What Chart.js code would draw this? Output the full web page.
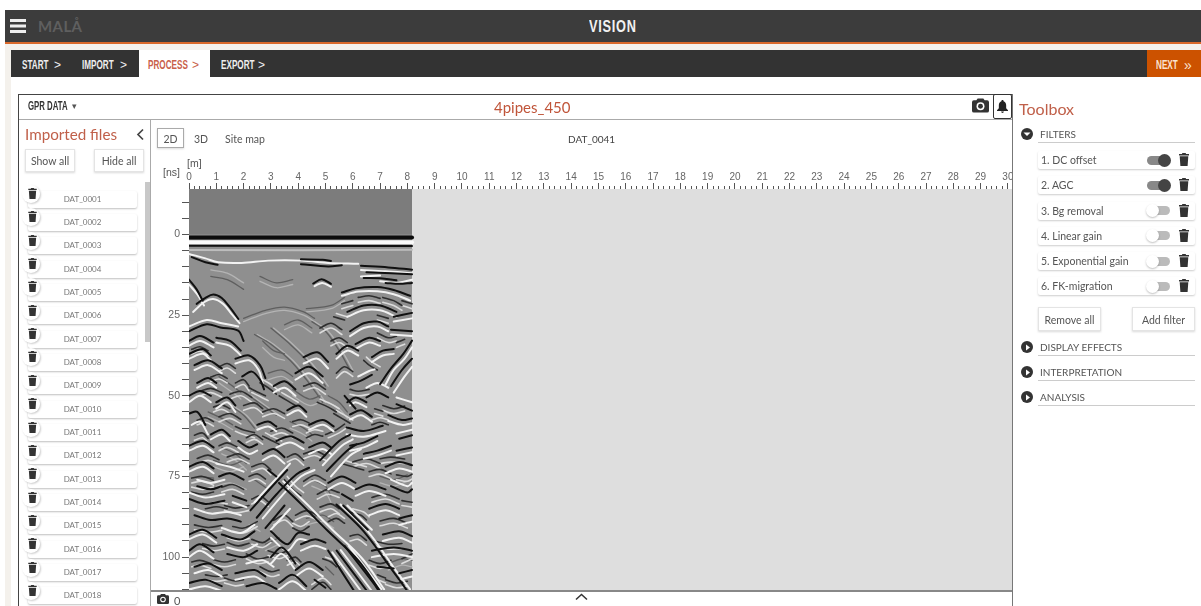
<!DOCTYPE html>
<html><head><meta charset="utf-8">
<script src="https://cdn.jsdelivr.net/npm/chart.js@4"></script>
<style>
html,body{margin:0;padding:0;width:1201px;height:606px;overflow:hidden;background:#fff;font-family:Lato,sans-serif;color:#555}
#page{position:absolute;left:0;top:0;width:1201px;height:606px;overflow:hidden;filter:blur(.35px)}
.a{position:absolute;white-space:nowrap}
.nar{font-family:"Liberation Sans",sans-serif;font-weight:700;transform-origin:0 50%;transform:scaleX(.68);font-size:12px;line-height:14px;top:58px}
.btn{position:absolute;background:#fff;border:1px solid #e4e4e4;box-shadow:0 1px 2px rgba(0,0,0,.15);text-align:center;font-size:10.5px;color:#555;box-sizing:border-box}
.row{position:absolute;left:1038px;width:157px;height:18px;background:#fff;box-shadow:0 1px 2px rgba(0,0,0,.2);border-radius:2px;font-size:10.5px;line-height:18px;color:#555;text-indent:3px}
.file{position:absolute;left:28px;width:109px;height:17px;background:#fff;box-shadow:0 1px 2px rgba(0,0,0,.25);border-radius:2px;font-size:8px;line-height:17px;text-align:center;color:#777}
.knob{position:absolute;width:13px;height:13px;border-radius:50%}
.track{position:absolute;width:23px;height:9px;border-radius:5px}
.hdr{position:absolute;left:1040px;font-size:10px;color:#555;white-space:nowrap}
.ul{position:absolute;left:1038px;width:157px;height:1px;background:#ccc}
.dot{position:absolute;left:1021px;width:12px;height:12px;border-radius:50%;background:#333}
#c{filter:blur(.3px)}
</style></head><body><div id="page">
<svg width="0" height="0" style="position:absolute"><defs>
<symbol id="trash" viewBox="0 0 10 13"><path fill="#333" d="M3.4 0h3.2l.5 1H10v1.4H0V1h2.9zM.7 3.2h8.6L8.6 13H1.4z"/></symbol>
<symbol id="cam" viewBox="0 0 18 15"><path fill="#333" d="M6 0h6l1.4 2H16a2 2 0 0 1 2 2v9a2 2 0 0 1-2 2H2a2 2 0 0 1-2-2V4a2 2 0 0 1 2-2h2.6z"/><circle cx="9" cy="8.3" r="4.2" fill="#fff"/><circle cx="9" cy="8.3" r="2.6" fill="#333"/></symbol>
<symbol id="bell" viewBox="0 0 12 14"><path fill="#222" d="M6 0c.8 0 1.2.6 1.2 1.2C9.400 1.800 10 3.800 10 6v3l2 2v.8H0V11l2-2V6c0-2.200.6-4.200 2.800-4.800C4.800.6 5.200 0 6 0zM4.500 12.500h3C7.500 13.400 6.800 14 6 14s-1.500-.6-1.500-1.500z"/></symbol>
</defs></svg>

<div class="a" style="left:0;top:44px;width:11px;height:562px;background:#f4f1ec"></div>
<div class="a" style="left:0;top:44px;width:5px;height:562px;background:#fff"></div>
<div class="a" style="left:5px;top:44px;width:1196px;height:6px;background:#f4f1ec"></div>
<div class="a" style="left:5px;top:10px;width:1196px;height:32px;background:#3c3c3c"></div>
<div class="a" style="left:5px;top:42px;width:1196px;height:2px;background:#d9682a"></div>
<div class="a" style="left:10px;top:19px;width:16px;height:3px;background:#eee;box-shadow:0 5.500px 0 #eee,0 11px 0 #eee"></div>
<div class="a" style="left:38px;top:19px;font-size:15px;font-weight:700;color:#5f5f5f;letter-spacing:.4px;line-height:15px">MALÅ</div>
<div class="a nar" style="left:589px;top:18px;font-size:17px;line-height:18px;color:#f2f2f2;letter-spacing:1px;transform:scaleX(.75)">VISION</div>

<div class="a" style="left:11px;top:50px;width:1190px;height:27px;background:#333"></div>
<div class="a" style="left:139px;top:50px;width:71px;height:27px;background:#fff"></div>
<div class="a" style="left:1147px;top:50px;width:54px;height:27px;background:#cc5200"></div>
<div class="a nar" style="left:22px;color:#eee">START</div><div class="a nar" style="left:54px;color:#eee;transform:none;font-weight:400">&gt;</div>
<div class="a nar" style="left:82px;color:#eee">IMPORT</div><div class="a nar" style="left:120px;color:#eee;transform:none;font-weight:400">&gt;</div>
<div class="a nar" style="left:148px;color:#c9604a;">PROCESS</div><div class="a nar" style="left:192px;color:#c9604a;transform:none;font-weight:400">&gt;</div>
<div class="a nar" style="left:221px;color:#eee">EXPORT</div><div class="a nar" style="left:258px;color:#eee;transform:none;font-weight:400">&gt;</div>
<div class="a nar" style="left:1156px;color:#fbe3d0">NEXT</div><div class="a nar" style="left:1184px;color:#fbe3d0;transform:none;font-weight:400;font-size:14px">»</div>

<div class="a" style="left:18px;top:94px;width:994px;height:1px;background:#444"></div>
<div class="a" style="left:18px;top:94px;width:1px;height:512px;background:#444"></div>
<div class="a" style="left:1012px;top:94px;width:1px;height:512px;background:#777"></div>
<div class="a" style="left:19px;top:119px;width:993px;height:1px;background:#aaa"></div>
<div class="a" style="left:150px;top:119px;width:1px;height:487px;background:#aaa"></div>
<div class="a nar" style="left:28px;top:98px;font-size:13px;line-height:15px;color:#333;transform:scaleX(.6)">GPR DATA</div><div class="a" style="left:72px;top:100px;font-size:9px;line-height:12px">▾</div>
<div class="a" style="left:494px;top:98px;font-size:15px;line-height:18px;color:#c0553a">4pipes_450</div>
<svg class="a" style="left:972px;top:98px" width="17" height="15"><use href="#cam"/></svg>
<div class="a" style="left:993px;top:94px;width:19px;height:25px;border:1px solid #333;box-sizing:border-box;border-radius:2px"></div>
<svg class="a" style="left:997px;top:100px" width="11" height="13"><use href="#bell"/></svg>

<div class="a" style="left:25px;top:125px;font-size:15.200px;line-height:19px;color:#c0604a">Imported files</div>
<svg class="a" style="left:136px;top:128px" width="9" height="13"><path d="M7 1.500L2 6.500l5 5" fill="none" stroke="#444" stroke-width="1.700"/></svg>
<div class="btn" style="left:25px;top:149px;width:50px;height:23px;line-height:22px">Show all</div>
<div class="btn" style="left:94px;top:149px;width:50px;height:23px;line-height:22px">Hide all</div>
<div class="a" style="left:145px;top:182px;width:5px;height:160px;background:#c8c8c8"></div>
<div id="files"></div>

<div class="btn" style="left:157px;top:128px;width:27px;height:20px;line-height:20px;font-size:10.500px;border-color:#aaa">2D</div>
<div class="a" style="left:194px;top:133px;font-size:10.500px;line-height:12px">3D</div>
<div class="a" style="left:225px;top:133px;font-size:10.500px;line-height:12px">Site map</div>
<div class="a" style="left:568px;top:133px;font-size:10px;line-height:12px;color:#444">DAT_0041</div>

<div class="a" style="left:151px;top:150px;width:861px;height:441px"><canvas id="c" width="861" height="441" style="display:block;width:861px;height:441px"></canvas></div>
<div class="a" style="left:187px;top:158px;font:10.500px 'Liberation Sans',sans-serif;line-height:11px;color:#555">[m]</div>
<div class="a" style="left:163px;top:167px;font:10.500px 'Liberation Sans',sans-serif;line-height:11px;color:#555">[ns]</div>
<div class="a" style="left:151px;top:590px;width:861px;height:2px;background:#888"></div>
<svg class="a" style="left:157px;top:594px" width="12" height="10"><use href="#cam"/></svg>
<div class="a" style="left:174px;top:594px;font-size:11px;line-height:13px">0</div>
<svg class="a" style="left:575px;top:593px" width="13" height="8"><path d="M1 6.500L6.500 1.500l5.500 5" fill="none" stroke="#333" stroke-width="1.500"/></svg>

<div class="a" style="left:1019px;top:99px;font-size:16px;line-height:20px;color:#c0604a">Toolbox</div>
<div id="tools"></div>
<div class="btn" style="left:1038px;top:307px;width:63px;height:24px;line-height:24px">Remove all</div>
<div class="btn" style="left:1132px;top:307px;width:63px;height:24px;line-height:24px">Add filter</div>
</div>
<script>
// Chart values
const files=["DAT_0001","DAT_0002","DAT_0003","DAT_0004","DAT_0005","DAT_0006","DAT_0007","DAT_0008","DAT_0009","DAT_0010","DAT_0011","DAT_0012","DAT_0013","DAT_0014","DAT_0015","DAT_0016","DAT_0017","DAT_0018"];
const filterNames=["1. DC offset","2. AGC","3. Bg removal","4. Linear gain","5. Exponential gain","6. FK-migration"];
const filterOn=[true,true,false,false,false,false];
const sections=["FILTERS","DISPLAY EFFECTS","INTERPRETATION","ANALYSIS"];
const xMinM=0, xMaxM=30.15, yMinNs=-14.1, yMaxNs=110.5, profileEndM=8.17;
const xLabelStep=1, xMinorStep=0.2, yTickStep=5, yLabelStep=25;

const topZone=[0,-14.1,8.17,-14.1];
const lowerZone=[0,0,8.17,0];
const emptyZone=[8.17,-14.1,30.15,-14.1];

// direct wave bands: m, ns
const bandBlack=[[0,.9,8.17,.9]];
const bandWhite=[[0,2.4,8.17,2.4]];
const bandBlackThin=[[0,3.5,8.17,3.6]];
const bandPale=[[0,4.8,4,4.9,8.17,4.7]];

const blackStrokes=[
[0,14,.28,17,.5,20.5],[.28,21.5,.59,19.7,.89,18.6,1.2,19.7,1.5,22.6,1.81,26.2],
[0,30,.65,27.8,1.15,28.8,1.8,29.8,2,33],[.1,7,.6,8.6,1.05,9.4],[4.1,7.7,4.9,7.8,5.2,8.2],[4.1,9.2,5.1,9.9,5.6,9.5],
[6.3,9.7,7.3,10.2,8.17,10.9],[6.5,11.7,7.4,12,8.17,12.3],[4.55,15.2,4.86,13.9,5.2,15.3],[5.6,18,6.1,16.7,6.9,16.3,7.5,17.2,8.1,19],
[6.4,13.5,7,13.6,7.6,14.2],[7.2,15,7.7,15.3,8.17,15],[0,33,.4,31.5,.9,33.5],[1,32,1.5,33,1.9,36],[0,37,.5,35.5,.8,37.5],[.2,40.5,.7,39,1.2,41.5],
[1.7,38.5,2.2,37.5,2.6,40.5,2.8,44.5],[1.95,44,2.3,42.5,2.6,45,2.75,48],[.3,46,.7,44.5,1,46],[0,50,.4,48.5,.8,50],[1,52,1.4,50.5,1.7,53],
[0,55.5,.3,55,.6,59],[.8,62,1.2,60.5,1.5,62.5],[0,65.5,.5,64,.9,66],[2.5,59,2.9,58,3.2,59.5],[3.6,54.5,4,53,4.3,55],[4.4,59,4.9,57.5,5.3,59.5],
[5.8,52,6.1,50.5,6.5,52],[5.9,46.5,6.3,45.3,6.7,43.5],[7,46.4,7.4,41.5,7.85,37,8.17,32.9],[7.4,47,7.8,42,8.17,38.5],[6.7,38,7.1,36,7.5,35.5],[5.9,30,6.4,27.5,6.9,27,7.3,28.5],
[6.1,34,6.6,32,7,33],[5.4,37,5.8,34.5,6.2,36],[5.8,24,6.4,22,7,22,7.6,24],[7.5,25.5,8.17,24.3],[7.4,29.5,8.17,30],
[5.77,59.8,6.4,60.9,7.1,59.3],[5.9,55.8,6.3,54.5,6.7,56.5],[6.5,50.5,6.9,49,7.3,50.5],[7.6,52.6,8.17,54.6],[7.3,56,7.8,57.5,8.17,57],[7.7,63.3,8.17,62.2],[5.7,50,5.9,52,6.1,54],
[5.9,65.5,6.4,64.5,6.9,62.5],[6.4,68,6.9,67,7.4,65.5],[7.6,67,8.17,66],[7.2,72,7.7,70.5,8.17,71.5],
[2.48,87.8,3.2,80.6,3.94,74.3,4.4,72.3],[2.25,85.5,3,78.5,3.6,73],[2.8,91,3.5,84],[5.05,73.3,5.78,67.1,6.14,65],[4.8,70,5.5,64,5.9,62],
[3.3,77,4.1,83.5,5.1,92,6.2,101,7,110.5],[5.41,98,6.52,110.5],[5.7,96.5,6.8,108.5,6.95,110.5],[5.1,98,6.05,110.5],[5.4,83.7,6.4,92,7.48,104.4,8,110.5],[5.65,84,6.55,91.5],
[0,72,.5,70.5,.9,72.5],[1.1,75,1.5,74,2,76],[.3,78,.8,79,1.2,78],[0,82,.6,83.5,1.3,82.5],[1.6,81,2.1,82.5],[.2,87,.8,88.5,1.4,88,1.9,89],[0,93,.5,91.5,1,94],[1.2,93,1.9,94.5,2.4,92],
[0,98,.4,96,.9,98.5],[1.4,99,2,100,2.5,98],[.2,103,.7,102,1.2,104],[1.7,105,2.4,104,2.8,106],[0,108,.6,107,1.2,109],[2.1,109,2.7,108,3.2,109.8],
[3,92,3.6,96,4,92.5,4.4,93],[3,100,3.4,97,3.9,102],[4.1,96,4.6,94.5,5,95.5],[3.9,104,4.4,101.5,4.9,104],[3.3,108,3.8,105.5,4.3,109],[4.6,107,5,109.5],
[5.1,77,5.6,75,6.1,77],[6.1,79,6.6,77.5,7.2,79],[7.4,78,8,80,8.17,79],[5.6,80.5,6,82.5],[6.6,85,7.2,83.5,7.7,85],[7.7,88,8.17,87],[6.7,98,7.5,97,8.17,98],[7.1,93,7.7,92,8.17,93.5],[6.9,103,7.5,103.5],[7.7,105,8.17,104],
[3.2,64,3.7,62.5,4.2,64.5],[4.4,66,4.9,64.5,5.2,66],[2.7,68,3.1,66.5,3.5,69],[1.8,64,2.2,66,2.5,65],[2.9,73,3.2,75],
[3.1,47,3.5,45.5,3.9,48],[4.2,38,4.7,36.5,5.1,39.5],[3.9,43,4.4,41,4.9,44]
];
const whiteStrokes=[
[0,15.5,.3,18.5,.55,22],[.15,24,.55,21,.89,20,1.25,21.5,1.55,24.5,1.85,27.5],[0,28.5,.65,26.5,1.2,27.5,1.8,28.5],
[0,6,.6,7.4,1.07,8.6,1.93,8.8,2.9,8.1,4.13,8.1,5.1,8.8,6.2,9.1],[6.3,11,7.2,11.4,8.17,12],[6.3,13,7,12.7],[7,14.5,7.6,15,8.17,14],[5.6,19,6.2,17.7,6.9,17.6,7.5,18.5,8.1,20.5],
[4.6,16,4.88,15,5.2,16.2],[0,34.5,.4,33,.9,35],[1,33.5,1.5,34.5,1.9,37.5],[0,38.5,.5,37,.8,39],[.2,42,.7,40.5,1.2,43],[1.7,40,2.2,39,2.55,42,2.7,46],
[.3,47.5,.7,46,1,47.5],[0,52,.4,50,.8,52],[1,54,1.4,52,1.7,55],[.1,59,.4,58,.7,62],[.8,63.5,1.2,62,1.5,64],[0,67,.5,65.5,.9,67.5],[2.5,60.5,2.9,59.5,3.2,61],[3.6,56,4,54.5,4.3,56.5],[4.4,60.5,4.9,59,5.3,61],
[5.9,53,6.1,52,6.5,53.5],[6.2,44,6.6,42.3,6.8,41.8],[7.2,46.5,7.5,42,7.9,38.5,8.17,35],[7.5,49,7.9,44,8.17,41],[6.7,39.5,7.1,37.5,7.5,37],[5.9,31.5,6.4,29,6.9,28.5,7.3,30],
[6.1,35.5,6.6,33.5,7,34.5],[5.4,38.5,5.8,36,6.2,37.5],[5.8,25.5,6.4,23.5,7,23.5,7.6,25.5],[7.5,27,8.17,26],[7.4,31,8.17,31.5],
[5.77,61.9,6.4,62.7,7.2,60.9],[5.9,57.3,6.3,56,6.7,58],[6.5,47.5,6.9,46,7.3,47.5],[7.6,50.5,8.17,52],[7.3,57.8,7.8,59,8.17,58.5],[7.6,61.7,8.17,60.5],
[5.9,67,6.4,66,6.9,64],[6.4,69.5,6.9,68.5,7.4,67],[7.6,68.5,8.17,67.5],[7.2,74,7.7,72.5,8.17,73.5],
[2.7,88,3.4,81,4.1,75,4.6,73],[2.4,83,3.1,76.5,3.7,71],[3,91.5,3.7,85],[5.2,75,5.9,68.5,6.3,66.5],[4.9,71.5,5.6,65.5,6,63.5],
[3.45,76.5,4.25,83,5.25,91.5,6.35,100.5,7.15,110],[5.56,97.8,6.7,110.5],[5.25,98.5,6.3,110.5],[5.85,96.5,7.05,110],[5.55,83.7,6.55,92,7.6,104.4,8.1,110],[5.8,84,6.7,91.5],
[0,73.5,.5,72,.9,74],[1,71,1.5,72,2,73.5],[.3,76,.8,77,1.3,76],[0,80,.6,81.5,1.3,80.5],[1.6,83,2.1,84.5],[.2,85,.8,86.5,1.4,86,1.9,87],[0,94.5,.5,93,1,95.5],[1.2,91,1.9,92.5,2.4,90],
[0,100,.4,98,.9,100.5],[1.4,97,2,98,2.5,96],[.2,105,.7,104,1.2,106],[1.7,107,2.4,106,2.8,108],[0,110,.6,109,1.2,110.5],[2.1,102,2.7,101,3.1,103],
[3,94,3.6,98,4,94.5,4.4,95],[3,102,3.4,99,3.9,104],[4.1,98,4.6,96.5,5,97.5],[3.9,106,4.4,103.5,4.9,106],[3.3,110,3.8,107.5,4.3,110.5],
[5.1,79,5.6,77,6.1,79],[6.1,81,6.6,79.5,7.2,81],[7.4,76,8,78,8.17,77],[6.6,87,7.2,85.5,7.7,87],[7.7,90,8.17,89],[6.7,100,7.5,99,8.17,100],[7.1,95,7.7,94,8.17,95.5],[7.7,107,8.17,106],
[3.2,66,3.7,64.5,4.2,66.5],[4.4,68,4.9,66.5,5.2,68],[2.7,70,3.1,68.5,3.5,71],[1.8,66,2.2,68,2.5,67],
[3.1,49,3.5,47.5,3.9,50],[4.2,40,4.7,38.5,5.1,41.5],[3.9,45,4.4,43,4.9,46]
];
const darkStrokes=[
[2,26,2.8,23.5,3.5,22.5,4.2,24,4.6,26],[4.3,23,5.2,22,5.7,19.5],[2.4,31,3,34,3.7,39,4.3,45,4.9,52],[3,29,3.7,34,4.4,40,5,47],[4.5,27,5,30,5.5,36,5.9,42],
[3.5,28,4,26.5,4.5,29],[.8,13,1.4,14,2,17],[2.6,13,3.2,15,3.8,14],[1.5,53,2,56,2.4,60],[2.2,50,2.7,53,3.2,56],[.7,55,1.2,57,1.6,59],[2.7,33,3.1,36,3.5,37],
[1.2,66,1.7,68,2.1,71],[.9,70,1.5,71.5,2,70],[.4,75,.9,75.5],[3.7,58,4.2,60,4.5,62],[1.1,44,1.6,47,1.9,49],[3.8,48,4.4,51,4.8,50],[2.9,43,3.4,42,3.8,44],
[5.1,50,5.5,52,5.8,55],[2.4,76,2.9,79],[4.5,76,5,78,5.2,81],[5,103,5.3,105.5],[2.8,96,3.3,94],[7.3,102,7.8,100.5,8.17,101],[4.3,88,4.9,87,5.3,89],[7,75,7.5,76,8,74.5]
];
const lightStrokes=[
[2,27,2.8,24.5,3.5,23.5,4.2,25,4.6,27],[4.3,24,5.2,23,5.7,20.5],[2.5,31,3.1,34,3.8,39,4.4,45,5,52],[3.1,29,3.8,34,4.5,40,5.1,47],[4.6,27,5.1,30,5.6,36,6,42],
[3.5,29.5,4,28,4.5,30.5],[.8,11,1.4,12,2,15],[2.6,14.5,3.2,16.5,3.8,15.5],[1.6,53,2.1,56,2.5,60],[2.3,50,2.8,53,3.3,56],[.7,56.5,1.2,58.5,1.6,60.5],[2.7,35,3.1,38,3.5,39],
[1.2,68,1.7,70,2.1,73],[.9,72,1.5,73.5,2,72],[3.7,60,4.2,62,4.5,64],[1.1,46,1.6,49,1.9,51],[3.8,50,4.4,53,4.8,52],[2.9,45,3.4,44,3.8,46],[5.1,52,5.5,54,5.8,57],
[1,78,1.5,77,2.1,79],[2.2,90,2.6,92],[4.5,78,5,80,5.2,83],[2.8,98,3.3,96],[7.3,104,7.8,102.5,8.17,103],[4.3,90,4.9,89,5.3,91],[7,77,7.5,78,8,76.5]
];
// shorter wavelets filling the texture between the main reflectors
const fineDark=[
[.1,35.6,.4,34.8,.7,36],[1.1,41,1.4,40,1.7,41.5],[.8,44.2,1.1,43.4,1.4,44.6],[1.7,46,2,45,2.2,47],[.4,48.6,.8,47.7,1.2,49],[1.5,49.5,1.9,48.6,2.3,50.5],[2.2,47.5,2.5,48.8,2.8,50],[.9,53.5,1.2,52.8,1.5,54],
[2,53,2.4,52.2,2.7,54],[1.1,56.5,1.5,55.5,1.9,57.3],[.3,57.6,.6,56.8,.9,58],[1.7,59.5,2,60.6,2.4,61.4],[.2,62.2,.5,61.5,.7,63.2],[1.1,65.5,1.4,64.6,1.8,66],[2.1,63,2.4,62,2.7,63.6],[.3,69.4,.7,68.4,1.1,69.8],[1.4,69,1.8,68,2.2,69.6],[2.3,72,2.7,71,3,73],[.1,75.5,.5,75,.9,76.2],[1.2,78.3,1.6,77.5,2,79],[2.2,75,2.5,74.2,2.8,75.8],
[.1,79.8,.5,80.5,.9,79.8],[1.3,84,1.7,84.8,2.2,84],[.6,85,1,84.4,1.4,85],[2.3,82,2.6,81,2.9,82.8],[.2,90,.7,90.8,1.2,90.2],[1.6,90.5,2,91,2.5,89],[2.3,94.5,2.7,95.5,3,94],[.5,95.8,.9,96.6,1.3,96],[1.4,95.5,1.8,96.5,2.2,95.7],[.9,100.8,1.3,101.5,1.7,100.8],[2.1,99,2.5,100.6,2.9,100],[.1,101.5,.4,101,.8,102],
[1.3,106.5,1.7,107.4,2,107],[2.6,103,3,104.5,3.3,104],[.6,105.5,1,106,1.4,105.5],
[2.6,46,2.9,47.5,3.2,49.5],[3.3,50,3.6,51.5,3.9,53],[2.7,55,3.1,54,3.5,55.5],[4.2,47,4.6,46,5,48],[4.7,52,5.1,53.5,5.4,55],[3,61,3.4,60,3.8,61.5],[3.8,58,4.1,57.4,4.4,58.4],[5.3,55.5,5.6,57,5.9,58.5],[2.7,62.5,3,63.8,3.3,65],[4.2,68,4.6,67,5,68.5],[3.6,69,3.9,68,4.2,70],[5,62,5.4,60.5,5.7,58.8],[4.3,63,4.6,62,4.9,62.5],
[3.5,76,3.8,79,4.1,81],[4.2,76.5,4.6,74.6,5,76.2],[4.7,80.5,5.1,79,5.5,80],[3.9,87,4.3,85.6,4.7,87],[4.8,84.5,5.2,83.5,5.5,85],[3.1,88.6,3.5,87,3.8,89],[3.8,91,4.1,92,4.4,90.5],[5.1,89,5.4,88,5.7,89.5],[2.9,98,3.3,99,3.6,98],[4.9,100.5,5.2,101.5,5.4,103],[3.6,101,3.9,100,4.1,101.5],[4.5,110,4.9,107.8,5.2,110],
[6,70.5,6.5,69.5,7,71],[7,69.5,7.4,69,7.9,69.6],[6.6,73.5,7,72.8,7.4,74.2],[5.6,71,6,72,6.4,73],[7.6,74.5,8,75,8.17,74.3],[6.7,81.5,7.2,80.5,7.7,82],[7.8,82.5,8.17,83],[5.9,86,6.3,87,6.5,88.5],[7,88.8,7.5,88,8,89.5],[5.9,93.5,6.2,93,6.5,94.8],[6.8,95,7.3,96,7.8,95.8],[7.8,100.5,8.17,99],[6.6,101,7,102,7.4,101],[7.2,107,7.6,108,8,107.5],[6.9,105.5,7.2,106.5],
[5.4,43,5.7,41,6,42.5],[6.4,39,6.6,40.5,6.9,42],[5.2,33,5.5,32,5.8,33.5],[4.8,29,5.2,27.5,5.6,29.5],[5.3,25.5,5.7,26.5],[6.9,30.5,7.3,32,7.6,31.5],[7.6,33.5,7.9,32.5],[7.8,20.5,8.17,21.5],[7.1,19.5,7.5,20.5,7.8,22],[6.2,19.5,6.6,19,7,19.8],[5.6,21.5,6,20.5],[6.9,25,7.3,26],[5.9,48,6.2,48.6,6.6,48],[7.1,53,7.5,54,7.9,53.2],[6.8,54,7.1,54.8],[6.7,59,7,58.2,7.3,59]
];
const fineLight=[
[.1,37,.4,36.2,.7,37.4],[1.1,42.4,1.4,41.4,1.7,43],[.8,45.6,1.1,44.8,1.4,46],[1.7,47.5,2,46.5,2.2,48.5],[.4,50,.8,49,1.2,50.4],[1.5,51,1.9,50,2.3,52],[2.3,49,2.6,50.2,2.9,51.5],[.9,55,1.2,54.2,1.5,55.4],
[2,54.5,2.4,53.7,2.7,55.5],[1.1,58,1.5,57,1.9,58.7],[.3,59,.6,58.2,.9,59.4],[1.7,61,2,62,2.4,63],[.2,63.8,.5,63,.7,64.5],[1.1,67,1.4,66,1.8,67.5],[2.1,64.5,2.4,63.5,2.7,65],[.3,71,.7,70,1.1,71.3],[1.4,70.5,1.8,69.5,2.2,71],[2.3,73.5,2.7,72.5,3,74.5],[.1,77,.5,76.5,.9,77.7],[1.2,79.8,1.6,79,2,80.5],[2.2,76.5,2.5,75.8,2.8,77.3],
[.1,78.3,.5,79,.9,78.3],[1.3,85.5,1.7,86.3,2.2,85.5],[.6,83.5,1,83,1.4,83.5],[2.3,83.5,2.6,82.5,2.9,84.3],[.2,91.5,.7,92.3,1.2,91.7],[1.6,92,2,92.5,2.5,90.5],[2.3,96,2.7,97,3,95.5],[.5,97.3,.9,98,1.3,97.5],[1.4,94,1.8,95,2.2,94.2],[.9,102.3,1.3,103,1.7,102.3],[2.1,100.5,2.5,102,2.9,101.5],[.1,103,.4,102.5,.8,103.5],
[1.3,108,1.7,108.9,2,108.5],[2.6,104.5,3,106,3.3,105.5],[.6,107,1,107.5,1.4,107],
[2.7,45,3,46.5,3.3,48.5],[3.4,49,3.7,50.5,4,52],[2.7,56.5,3.1,55.5,3.5,57],[4.2,48.5,4.6,47.5,5,49.5],[4.8,51,5.2,52.5,5.5,54],[3,62.5,3.4,61.5,3.8,63],[3.8,59.5,4.1,59,4.4,60],[5.4,54.5,5.7,56,6,57.5],[2.8,61.5,3.1,62.8,3.4,64],[4.2,69.5,4.6,68.5,5,70],[3.6,70.5,3.9,69.5,4.2,71.5],[5.1,63,5.5,61.5,5.8,59.8],[4.3,61.5,4.6,60.5,4.9,61],
[3.6,75,3.9,78,4.2,80],[4.2,78,4.6,76.2,5,77.8],[4.7,82,5.1,80.5,5.5,81.5],[3.9,88.5,4.3,87.2,4.7,88.5],[4.8,86,5.2,85,5.5,86.5],[3.1,90,3.5,88.5,3.8,90.5],[3.8,89.5,4.1,90.5,4.4,89],[5.1,87.5,5.4,86.5,5.7,88],[2.9,99.5,3.3,100.5,3.6,99.5],[5,100,5.3,101,5.5,102.5],[3.6,102.5,3.9,101.5,4.1,103],[4.5,108.5,4.9,106.5,5.2,108.5],
[6,72,6.5,71,7,72.5],[7,71,7.4,70.5,7.9,71],[6.6,75,7,74.3,7.4,75.7],[5.7,70,6.1,71,6.5,72],[7.6,76,8,76.5,8.17,75.8],[6.7,83,7.2,82,7.7,83.5],[7.8,84,8.17,84.5],[6,85,6.4,86,6.6,87.5],[7,90.3,7.5,89.5,8,91],[5.9,95,6.2,94.5,6.5,96.3],[6.8,96.5,7.3,97.5,7.8,97.3],[7.8,102,8.17,100.5],[6.6,102.5,7,103.5,7.4,102.5],[7.2,108.5,7.6,109.5,8,109],[6.9,107,7.2,108],
[5.4,44.5,5.7,42.5,6,44],[6.5,38,6.7,39.5,7,41],[5.2,34.5,5.5,33.5,5.8,35],[4.8,30.5,5.2,29,5.6,31],[5.4,24.5,5.8,25.5],[6.9,32,7.3,33.5,7.6,33],[7.6,35,7.9,34],[7.8,22,8.17,23],[7.1,21,7.5,22,7.8,23.5],[6.2,21,6.6,20.5,7,21.3],[5.6,23,6,22],[6.9,26.5,7.3,27.5],[5.9,49.5,6.2,50,6.6,49.5],[7.1,54.5,7.5,55.5,7.9,54.7],[6.8,55.5,7.1,56.3],[6.7,57.5,7,56.8,7.3,57.5]
];

// build the DOM text from the lists
const filesEl=document.getElementById('files');
files.forEach((n,i)=>{const t=199+i*23.35;
 filesEl.insertAdjacentHTML('beforeend',`<div class="file" style="top:${t-8.5}px">${n}</div><div class="a" style="left:22px;top:${t-14}px;width:18px;height:18px;border-radius:50%;background:#fff;box-shadow:1px 1px 2px rgba(0,0,0,.2)"></div><svg class="a" style="left:28px;top:${t-11}px" width="9" height="11"><use href="#trash"/></svg>`);});
const tools=document.getElementById('tools');
[134,347,372,397].forEach((y,i)=>{
 const tri=i==0?`<svg class="a" style="left:1023px;top:${y-3}px" width="8" height="6"><path d="M.5 1.500h7L4 5z" fill="#fff"/></svg>`:`<svg class="a" style="left:1025px;top:${y-3}px" width="6" height="7"><path d="M1 .5v6L5 3.500z" fill="#fff"/></svg>`;
 tools.insertAdjacentHTML('beforeend',`<div class="dot" style="top:${y-6}px"></div>${tri}<div class="hdr" style="top:${y-6}px;line-height:12px">${sections[i]}</div><div class="ul" style="top:${y+8}px"></div>`);});
filterNames.forEach((n,i)=>{const y=160+i*25.25,on=filterOn[i];
 tools.insertAdjacentHTML('beforeend',`<div class="row" style="top:${y-9}px">${n}</div><div class="track" style="left:1147px;top:${y-4.5}px;background:${on?'#888':'#bbb'}"></div><div class="knob" style="left:${on?1158:1146}px;top:${y-6.5}px;background:${on?'#444':'#fff'};${on?'':'box-shadow:0 1px 2px rgba(0,0,0,.25)'}"></div><svg class="a" style="left:1179px;top:${y-7}px" width="10" height="13"><use href="#trash"/></svg>`);});

// chart
function pts(a){const o=[];for(let i=0;i<a.length;i+=2)o.push({x:a[i],y:a[i+1]});return o;}
function strokes(list,color,w,tension){return list.map(s=>({type:'line',data:pts(s),borderColor:color,borderWidth:w,pointRadius:0,tension:tension,fill:false,borderCapStyle:'round',borderJoinStyle:'round'}));}
function zone(a,color){return {type:'line',data:pts(a),borderWidth:0,borderColor:'transparent',pointRadius:0,backgroundColor:color,fill:{value:yMaxNs}};}
const datasets=[].concat(
 strokes(bandWhite,'#fafafa',4,0),strokes(bandBlack,'#0c0c0c',4,0),strokes(bandBlackThin,'#111',2,0),strokes(bandPale,'#bdbdbd',2,0),
 strokes(blackStrokes,'#111',2,.35),strokes(whiteStrokes,'#f2f2f2',2,.35),
 strokes(fineDark,'#2e2e2e',1.6,.35),strokes(fineLight,'#dcdcdc',1.6,.35),
 strokes(darkStrokes,'#5f5f5f',1.3,.35),strokes(lightStrokes,'#b4b4b4',1.3,.35),
 [zone(lowerZone,'#8f8f8f'),zone(topZone,'#7c7c7c'),zone(emptyZone,'#dedede')]
);
const zero=s=>{s.paddingLeft=0;s.paddingRight=0;s.paddingTop=0;s.paddingBottom=0;};
new Chart(document.getElementById('c'),{
 type:'line',
 data:{datasets},
 options:{responsive:false,animation:false,devicePixelRatio:1,
  layout:{padding:0},
  plugins:{legend:{display:false},tooltip:{enabled:false},title:{display:false}},
  scales:{
   x:{type:'linear',position:'top',min:xMinM,max:xMaxM,weight:1,
     ticks:{stepSize:xLabelStep,includeBounds:false,maxRotation:0,autoSkip:false,color:'#666',font:{size:10,family:'Liberation Sans'},padding:0,callback:v=>String(v)},
     grid:{drawOnChartArea:false,tickLength:6,tickColor:'#555'},border:{color:'#555'},
     afterFit:s=>{s.height=39;zero(s);}},
   xMinor:{type:'linear',axis:'x',position:'top',min:xMinM,max:xMaxM,weight:0,
     ticks:{stepSize:xMinorStep,includeBounds:false,display:false,autoSkip:false},
     grid:{drawOnChartArea:false,tickLength:3,tickColor:'#555'},border:{color:'#555'},
     afterFit:s=>{s.height=0;zero(s);}},
   y:{type:'linear',position:'left',reverse:true,min:yMinNs,max:yMaxNs,
     ticks:{stepSize:yTickStep,includeBounds:false,autoSkip:false,color:'#666',font:{size:10.5,family:'Liberation Sans'},padding:2,callback:v=>v%yLabelStep===0?String(v):''},
     grid:{drawOnChartArea:false,tickLength:7,tickColor:'#555'},border:{color:'#555'},
     afterFit:s=>{s.width=38;zero(s);}}
  }
 }
});
</script></body></html>
